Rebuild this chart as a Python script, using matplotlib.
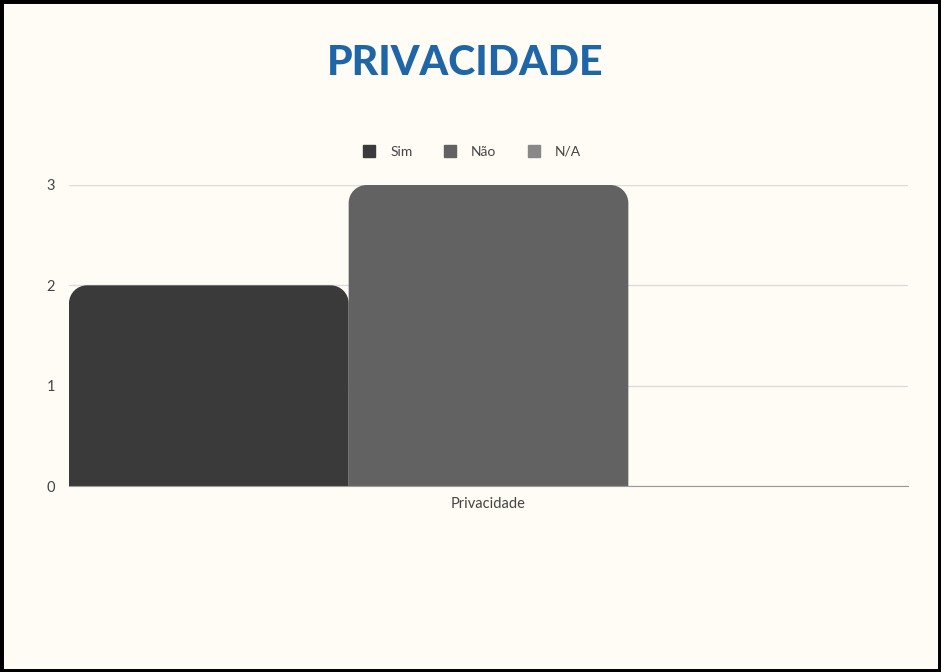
import matplotlib
matplotlib.use('Agg')
import matplotlib.pyplot as plt
from matplotlib.path import Path
from matplotlib.patches import PathPatch, Rectangle
from matplotlib.lines import Line2D

# chart data
categories = ['Privacidade']
series_names = ['Sim', 'Não', 'N/A']
series_values = [2, 3, 0]
series_colors = ['#3a3a3a', '#626262', '#888888']
y_ticks = [0, 1, 2, 3]

BG = '#fffbf5'
RADIUS_PX = 18

fig = plt.figure(figsize=(9.41, 6.72), dpi=100, facecolor=BG)
W, H = 941, 672
ax = fig.add_axes([69 / W, 186 / H, (908 - 69) / W, (486 - 185) / H])
ax.set_facecolor(BG)

n = len(series_names)
width = 1.0 / n
ax.set_xlim(-0.5, 0.5)
ax.set_ylim(0, 3)

# pixel -> data conversion (fixed axes size)
ax_w_px = 908 - 69
ax_h_px = 486 - 185
dx = 1.0 / ax_w_px
dy = 3.0 / ax_h_px


def rounded_bar(x0, x1, h, color):
    if h <= 0:
        return
    rx = RADIUS_PX * dx
    ry = min(RADIUS_PX * dy, h)
    k = 0.5523
    verts = [
        (x0, 0), (x0, h - ry),
        (x0, h - ry + k * ry), (x0 + rx - k * rx, h), (x0 + rx, h),
        (x1 - rx, h),
        (x1 - rx + k * rx, h), (x1, h - ry + k * ry), (x1, h - ry),
        (x1, 0), (x0, 0),
    ]
    codes = [Path.MOVETO, Path.LINETO,
             Path.CURVE4, Path.CURVE4, Path.CURVE4,
             Path.LINETO,
             Path.CURVE4, Path.CURVE4, Path.CURVE4,
             Path.LINETO, Path.CLOSEPOLY]
    ax.add_patch(PathPatch(Path(verts, codes), facecolor=color, edgecolor='none', zorder=3))


for i, (val, col) in enumerate(zip(series_values, series_colors)):
    x0 = -0.5 + i * width
    rounded_bar(x0, x0 + width, val, col)

ax.set_yticks(y_ticks)
ax.set_yticklabels([str(t) for t in y_ticks])
ax.set_xticks([0])
ax.set_xticklabels(categories)
ax.grid(axis='y', color='#dcdcdc', linewidth=1, zorder=0)
ax.set_axisbelow(True)
for s in ['top', 'right', 'left']:
    ax.spines[s].set_visible(False)
ax.spines['bottom'].set_color('#9a9a9a')
ax.spines['bottom'].set_zorder(4)
ax.tick_params(axis='both', length=0, labelcolor='#444444', labelsize=10.5)
ax.tick_params(axis='y', pad=10)
ax.tick_params(axis='x', pad=8)
for lbl in ax.get_xticklabels() + ax.get_yticklabels():
    lbl.set_fontfamily('Lato')

# legend
handles = [Line2D([], [], marker='s', linestyle='none', markersize=9,
                  markerfacecolor=c, markeredgecolor=c) for c in series_colors]
fig.legend(handles, series_names, loc='center', bbox_to_anchor=(468 / W, 1 - 152 / H),
           ncol=3, frameon=False, handletextpad=0.5, columnspacing=1.7,
           prop={'family': 'Lato', 'size': 10}, labelcolor='#444444')

fig.text(465 / W, 1 - 63 / H, 'PRIVACIDADE', ha='center', va='center',
         fontsize=29.5, fontweight='black', color='#1f66a8', family='Lato')

# dark frame
fig.patches.append(Rectangle((0, 0), 1, 1, transform=fig.transFigure, fill=False,
                             edgecolor='black', linewidth=5))

fig.savefig('out.png', dpi=100, facecolor=BG)
